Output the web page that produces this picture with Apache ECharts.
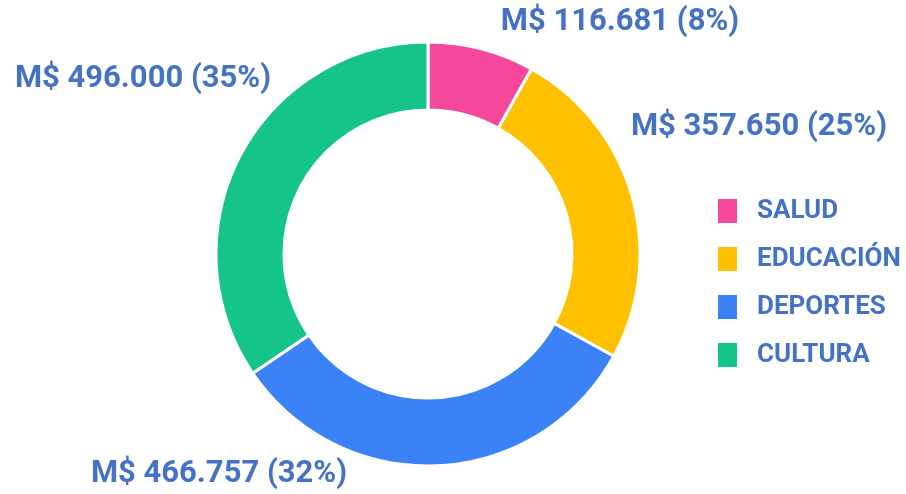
<!DOCTYPE html>
<html>
<head>
<meta charset="utf-8">
<script src="https://cdn.jsdelivr.net/npm/echarts@6/dist/echarts.min.js"></script>
<style>
  html, body { margin: 0; padding: 0; background: #fff; }
  #chart { width: 906px; height: 494px; }
</style>
</head>
<body>
<div id="chart"></div>
<script>
// datos
const categories = ['SALUD', 'EDUCACIÓN', 'DEPORTES', 'CULTURA'];
const values = [116681, 357650, 466757, 496000];
const colors = ['#F5489D', '#FFC000', '#3B82F6', '#14C488'];

// donde va cada etiqueta (centro del texto)
const labelPos = [[620, 22], [759, 127], [219, 474], [143, 79]];

const fmt = v => 'M$ ' + v.toLocaleString('de-DE');

const chart = echarts.init(document.getElementById('chart'));
chart.setOption({
  backgroundColor: '#fff',
  animation: false,
  legend: {
    orient: 'vertical',
    left: 711,
    top: 192,
    itemWidth: 21,
    itemHeight: 26,
    itemGap: 20,
    icon: 'rect',
    data: categories,
    textStyle: {
      color: '#4472C4', fontSize: 26, fontWeight: 'bold', fontFamily: 'Roboto',
      padding: [0, 0, 0, 14]
    }
  },
  series: [{
    type: 'pie',
    center: [428, 254],
    radius: [144, 212],
    startAngle: 90,
    clockwise: true,
    itemStyle: { borderColor: '#fff', borderWidth: 3 },
    label: {
      show: true,
      position: 'outside',
      color: '#4472C4',
      fontSize: 31,
      fontWeight: 'bold',
      fontFamily: 'Roboto',
      overflow: 'none',
      width: 400,
      formatter: p => fmt(p.value) + ' (' + Math.round(p.percent) + '%)'
    },
    labelLine: { show: false },
    labelLayout: p => ({
      x: labelPos[p.dataIndex][0],
      y: labelPos[p.dataIndex][1],
      align: 'center',
      verticalAlign: 'middle'
    }),
    data: categories.map((c, i) => ({ name: c, value: values[i], itemStyle: { color: colors[i] } }))
  }]
});
</script>
</body>
</html>
